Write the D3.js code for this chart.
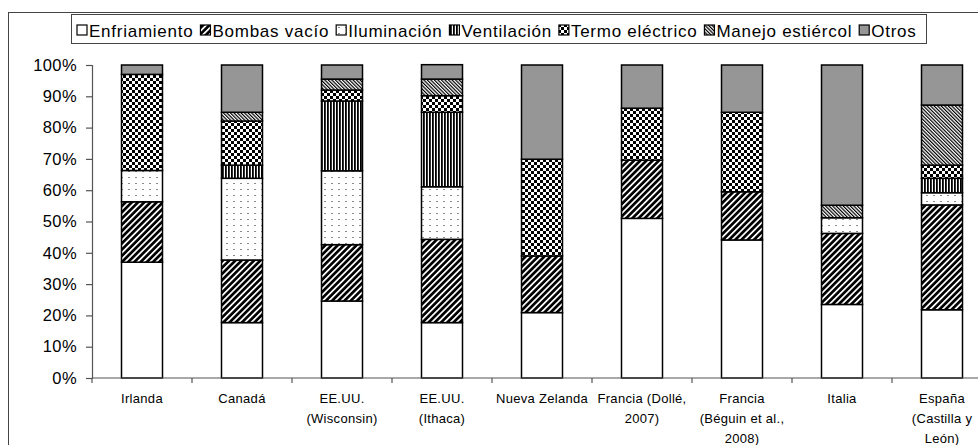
<!DOCTYPE html>
<html>
<head>
<meta charset="utf-8">
<script src="https://cdn.jsdelivr.net/npm/d3@7"></script>
<style>
  body { margin: 0; background: #fff; }
  svg text { font-family: "Liberation Sans", Arial, sans-serif; fill: #000; }
</style>
</head>
<body>
<svg id="chart" width="978" height="445"></svg>
<script>
// categorías (líneas de la etiqueta)
const categories = [
    ["Irlanda"],
    ["Canadá"],
    ["EE.UU.", "(Wisconsin)"],
    ["EE.UU.", "(Ithaca)"],
    ["Nueva Zelanda"],
    ["Francia (Dollé,", "2007)"],
    ["Francia", "(Béguin et al.,", "2008)"],
    ["Italia"],
    ["España", "(Castilla y", "León)"]
];

const seriesNames = ["Enfriamiento", "Bombas vacío", "Iluminación", "Ventilación", "Termo eléctrico", "Manejo estiércol", "Otros"];

// porcentajes
const enfriamiento = [37, 17.7, 24.6, 17.7, 20.9, 51, 44.1, 23.5, 21.8];
const bombasVacio  = [19.3, 20, 18, 26.6, 18.1, 18.6, 15.4, 22.7, 33.5];
const iluminacion  = [10, 26.1, 23.6, 16.8, 0, 0, 0, 5, 3.9];
const ventilacion  = [0, 4.2, 22.3, 23.8, 0, 0, 0, 0, 4.6];
const termo        = [30.7, 14.1, 3.5, 5.3, 30.9, 16.6, 25.4, 0, 4.2];
const manejo       = [0, 2.8, 3.5, 5.3, 0, 0, 0, 4, 19.2];
const otros        = [3, 15.1, 4.5, 4.6, 30.1, 13.8, 15.1, 44.8, 12.8];

const yTicks = d3.range(0, 101, 10);

const seriesValues = [enfriamiento, bombasVacio, iluminacion, ventilacion, termo, manejo, otros];
const fills = ["#fff", "url(#p-bombas)", "url(#p-ilum)", "url(#p-vent)", "url(#p-termo)", "url(#p-manejo)", "#969696"];

const svg = d3.select("#chart");
const defs = svg.append("defs");

// patrones
let p = defs.append("pattern").attr("id", "p-bombas").attr("patternUnits", "userSpaceOnUse")
    .attr("width", 4.4).attr("height", 4.4).attr("patternTransform", "rotate(45)");
p.append("rect").attr("width", 4.4).attr("height", 4.4).attr("fill", "#000");
p.append("rect").attr("x", 0).attr("width", 1.7).attr("height", 4.4).attr("fill", "#fff");

p = defs.append("pattern").attr("id", "p-ilum").attr("patternUnits", "userSpaceOnUse")
    .attr("width", 7).attr("height", 6);
p.append("rect").attr("width", 7).attr("height", 6).attr("fill", "#fff");
p.append("rect").attr("x", 2).attr("y", 3).attr("width", 2).attr("height", 1).attr("fill", "#8a8a8a");

p = defs.append("pattern").attr("id", "p-vent").attr("patternUnits", "userSpaceOnUse")
    .attr("width", 3).attr("height", 3);
p.append("rect").attr("width", 3).attr("height", 3).attr("fill", "#fff");
p.append("rect").attr("width", 1.8).attr("height", 3).attr("fill", "#000");

p = defs.append("pattern").attr("id", "p-termo").attr("patternUnits", "userSpaceOnUse")
    .attr("width", 6).attr("height", 6);
p.append("rect").attr("width", 6).attr("height", 6).attr("fill", "#fff");
p.append("rect").attr("width", 3).attr("height", 3).attr("fill", "#000");
p.append("rect").attr("x", 3).attr("y", 3).attr("width", 3).attr("height", 3).attr("fill", "#000");

p = defs.append("pattern").attr("id", "p-manejo").attr("patternUnits", "userSpaceOnUse")
    .attr("width", 2.5).attr("height", 2.5).attr("patternTransform", "rotate(-45)");
p.append("rect").attr("width", 2.5).attr("height", 2.5).attr("fill", "#fff");
p.append("rect").attr("width", 1.2).attr("height", 2.5).attr("fill", "#000");

// marco exterior
svg.append("rect")
    .attr("x", 8.5).attr("y", 12.5).attr("width", 1000).attr("height", 440)
    .attr("fill", "none").attr("stroke", "#444").attr("stroke-width", 1);

const x = d3.scaleBand()
    .domain(d3.range(categories.length))
    .range([92, 992])
    .paddingInner(0.59).paddingOuter(0.295);

const y = d3.scaleLinear().domain([0, 100]).range([378, 65]);

// apilado
const rows = categories.map((c, i) => {
    const r = { i };
    seriesNames.forEach((s, k) => r[s] = seriesValues[k][i]);
    return r;
});
const stack = d3.stack().keys(seriesNames)(rows);

const barGroup = svg.append("g");
stack.forEach((layer, k) => {
    barGroup.selectAll(null)
        .data(layer.filter(d => d[1] - d[0] > 0))
        .enter().append("rect")
        .attr("x", d => x(d.data.i))
        .attr("y", d => y(d[1]))
        .attr("width", x.bandwidth())
        .attr("height", d => y(d[0]) - y(d[1]))
        .attr("fill", fills[k])
        .attr("stroke", "#000")
        .attr("stroke-width", 1.5);
});

// eje Y
const yAxis = svg.append("g")
    .attr("transform", "translate(92,0)")
    .call(d3.axisLeft(y).tickValues(yTicks).tickSize(6).tickPadding(9).tickFormat(d => d + "%"));
yAxis.select(".domain").attr("stroke", "#555").attr("stroke-width", 1.2);
yAxis.selectAll(".tick line").attr("stroke", "#555").attr("stroke-width", 1.2);
yAxis.selectAll(".tick text")
    .style("font-family", "'Liberation Sans', Arial, sans-serif")
    .style("font-size", "16.5px")
    .style("letter-spacing", "0.4px");

// eje X
const gap = x.step() - x.bandwidth();
svg.append("line")
    .attr("x1", 92).attr("x2", 992).attr("y1", 378).attr("y2", 378)
    .attr("stroke", "#555").attr("stroke-width", 1.2);
svg.selectAll(null)
    .data(d3.range(categories.length + 1))
    .enter().append("line")
    .attr("x1", d => d < categories.length ? x(d) - gap / 2 : x(d - 1) + x.bandwidth() + gap / 2)
    .attr("x2", d => d < categories.length ? x(d) - gap / 2 : x(d - 1) + x.bandwidth() + gap / 2)
    .attr("y1", 378).attr("y2", 383)
    .attr("stroke", "#555").attr("stroke-width", 1.2);

const labels = svg.selectAll(null)
    .data(categories)
    .enter().append("text")
    .attr("text-anchor", "middle")
    .style("font-size", "13px")
    .style("letter-spacing", "0.3px");
labels.each(function (lines, i) {
    d3.select(this).selectAll("tspan")
        .data(lines)
        .enter().append("tspan")
        .attr("x", x(i) + x.bandwidth() / 2)
        .attr("y", (d, j) => 403 + j * 20)
        .text(d => d);
});

// leyenda
const legend = svg.append("g");
legend.append("rect")
    .attr("x", 71.5).attr("y", 14.5).attr("width", 855).attr("height", 29)
    .attr("fill", "#fff").attr("stroke", "#444");

let lx = 77;
seriesNames.forEach((name, k) => {
    legend.append("rect")
        .attr("x", lx).attr("y", 25).attr("width", 10).attr("height", 10)
        .attr("fill", fills[k]).attr("stroke", "#000").attr("stroke-width", 1.2);
    const t = legend.append("text")
        .attr("x", lx + 12).attr("y", 36.5)
        .style("font-size", "17px")
        .style("letter-spacing", "0.75px")
        .text(name);
    lx += 12 + t.node().getComputedTextLength() + 7;
});
</script>
</body>
</html>
